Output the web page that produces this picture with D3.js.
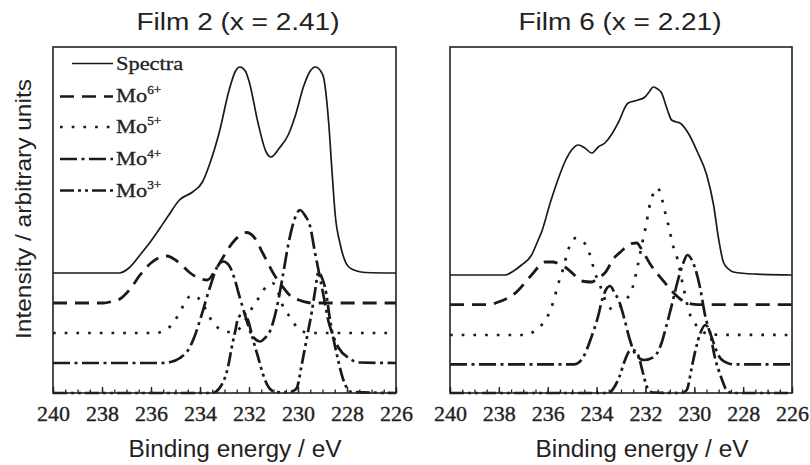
<!DOCTYPE html>
<html><head><meta charset="utf-8">
<script src="https://cdn.jsdelivr.net/npm/d3@7"></script>
<style>html,body{margin:0;padding:0;background:#fff;} svg{display:block}</style>
</head><body>
<svg id="chart" width="810" height="465"></svg>
<script>
// ---------------- DATA ----------------
const panelTitles = ["Film 2 (x = 2.41)", "Film 6 (x = 2.21)"];
const seriesLabels = [["Spectra", ""], ["Mo", "6+"], ["Mo", "5+"], ["Mo", "4+"], ["Mo", "3+"]];
const energyDomain = [240, 226];
const majorTicks = [240, 238, 236, 234, 232, 230, 228, 226];
const intensityDomain = [0, 346];
const xLabel = "Binding energy / eV";
const yLabel = "Intensity / arbitrary units";

// Film 2 : [binding energy (eV), intensity (arb., stacked)]
const film2Spectra = [[240,120],[237.3,120],[236.9,125],[236.45,138],[236.0,152],[235.63,165],[235.3,177],[234.84,193],[234.3,201],[233.9,211],[233.62,228],[233.21,261],[232.8,304],[232.55,322],[232.37,326],[232.15,322],[231.99,311],[231.64,271],[231.3,241],[231.1,236],[230.76,245],[230.4,258],[230.1,278],[229.78,306],[229.5,322],[229.29,326],[229.05,321],[228.95,315],[228.75,271],[228.61,221],[228.48,178],[228.27,148],[227.93,126],[227.6,122],[227.25,120.5],[226,120]];
const film2Mo6 = [[240,90],[237.95,90],[237.6,91.5],[237.27,94],[236.85,104],[236.45,118],[236.0,130],[235.6,136],[235.35,137],[235.0,133],[234.75,128],[234.4,120],[234.0,114.5],[233.7,113],[233.35,124],[233.1,134],[232.8,146],[232.45,156],[232.1,160.5],[231.8,156],[231.42,139],[230.94,117],[230.65,107],[230.26,96],[229.97,93],[229.6,90.5],[229.3,90],[226,90]];
const film2Mo5 = [[240,60],[235.8,60],[235.5,62],[235.22,66.5],[234.84,80],[234.6,91],[234.4,97],[234.2,97.5],[234.0,93],[233.8,85],[233.59,75],[233.35,67],[233.11,63],[232.8,61],[232.5,62.5],[232.19,71],[231.9,84],[231.55,97],[231.28,107],[231.05,110],[230.87,105],[230.67,90],[230.33,76],[229.92,63],[229.5,60],[226,60]];
const film2Mo4 = [[240,30],[235.6,30],[235.2,31],[234.82,35],[234.41,46],[234.2,58],[234.0,73],[233.59,106],[233.3,126],[233.05,131.5],[232.8,127],[232.64,118],[232.37,95],[232.1,73],[231.96,62],[231.75,54],[231.55,51.5],[231.35,55],[231.14,62],[230.87,85],[230.65,113],[230.4,148],[230.19,170],[229.92,183],[229.7,177],[229.51,167],[229.31,141],[229.1,115],[228.9,90],[228.75,71],[228.62,61],[228.34,45],[227.93,35],[227.5,30.5],[226,30]];
const film2Mo3 = [[240,0],[233.5,0],[233.12,8],[232.84,28],[232.71,45],[232.57,61],[232.44,75],[232.2,80],[232.03,72],[231.82,52],[231.62,35],[231.42,18],[231.14,4],[230.9,1],[230.4,0.5],[230.2,2],[230.05,5],[229.85,28],[229.64,55],[229.44,81],[229.31,101],[229.16,121],[229.02,115],[228.89,105],[228.68,71],[228.41,38],[228.07,8],[227.8,1],[226,0]];

// Film 6
const film6Spectra = [[240,118],[237.75,118],[237.4,122],[237.07,128],[236.66,138],[236.39,153],[236.25,161],[235.9,190],[235.6,212],[235.3,231],[235.02,243],[234.75,248],[234.48,245],[234.2,240],[233.93,246],[233.66,250],[233.4,258],[233.12,270],[232.71,290],[232.3,293],[232.02,296],[231.85,301],[231.68,306],[231.5,304],[231.34,300],[231.1,283],[230.93,273],[230.72,271],[230.59,270],[230.25,260],[229.87,241],[229.49,218],[229.21,188],[229.01,155],[228.81,131],[228.6,124],[228.4,121],[227.9,119.5],[227.31,118.7],[226,118]];
const film6Mo6 = [[240,88.3],[238.43,88.3],[238.02,91],[237.34,99.7],[236.66,118],[236.11,131],[235.8,131],[235.46,128],[235.3,126],[234.91,118],[234.75,114],[234.5,111.5],[234.2,111],[233.96,114.7],[233.66,120],[233.28,135],[233.0,141.5],[232.53,149.7],[232.35,150],[232.19,145],[231.78,128],[231.24,111.3],[230.89,101.3],[230.52,93],[230.2,89.5],[229.84,88.3],[226,88.3]];
const film6Mo5 = [[240,58],[236.93,58],[236.6,61],[236.39,64.7],[235.98,78],[235.77,91.3],[235.57,109],[235.37,124],[235.19,141],[234.85,155],[234.6,152],[234.44,148],[234.23,135],[234.1,123],[233.82,105],[233.55,88],[233.3,83],[233.0,87],[232.8,93],[232.53,105],[232.32,127],[232.12,151],[231.98,167],[231.85,185],[231.7,198],[231.5,205],[231.3,192],[231.17,178],[231.03,165],[230.9,150],[230.69,134],[230.44,105],[230.17,78],[229.9,67],[229.6,60.5],[229.3,58.3],[226,58]];
const film6Mo4 = [[240,28.7],[234.91,28.7],[234.7,31],[234.5,38],[234.23,54.7],[233.96,74.7],[233.75,95],[233.6,104],[233.45,107],[233.28,101],[233.07,91],[232.87,75],[232.66,55],[232.39,38],[232.05,33],[231.64,36.3],[231.37,48],[231.1,71],[230.89,91],[230.69,111],[230.45,130],[230.28,138],[230.1,133],[229.97,125],[229.76,105],[229.56,78],[229.28,55],[228.94,35],[228.6,29.5],[228.4,28.7],[226,28.7]];
const film6Mo3 = [[240,0],[233.5,0],[233.3,5],[233.07,16],[232.85,32],[232.65,42],[232.5,43],[232.3,38],[232.1,20],[231.92,5],[231.7,0.5],[230.5,0],[230.31,3],[230.1,26],[229.95,43],[229.75,60],[229.55,68],[229.4,64],[229.16,36],[228.89,15],[228.68,3],[228.45,0],[226,0]];

const film2Curves = [film2Spectra, film2Mo6, film2Mo5, film2Mo4, film2Mo3];
const film6Curves = [film6Spectra, film6Mo6, film6Mo5, film6Mo4, film6Mo3];

// ---------------- STYLE / LAYOUT ----------------
const styles = [
  {dash: null,                 width: 1.7},
  {dash: "14,8",               width: 2.8},
  {dash: "2.7,9",              width: 2.7},
  {dash: "17,4.5,3,4.5",       width: 2.7},
  {dash: "14,4,3,4,3,4",       width: 2.7}
];
const ink = "#1a1a1a";
const serif = "'Liberation Serif', 'Times New Roman', serif";
const sans = "'Liberation Sans', Arial, sans-serif";
const panels = [
  {x0: 53,  x1: 396, curves: film2Curves, title: panelTitles[0], titleX: 238, labelX: 235, legend: true},
  {x0: 450, x1: 792, curves: film6Curves, title: panelTitles[1], titleX: 620, labelX: 642, legend: false}
];
const plotTop = 47, plotBottom = 393;

const svg = d3.select("#chart");
const minorTicks = d3.range(226, 240.001, 0.5);

panels.forEach(p => {
  const x = d3.scaleLinear().domain(energyDomain).range([p.x0, p.x1]);
  const y = d3.scaleLinear().domain(intensityDomain).range([plotBottom, plotTop]);
  const g = svg.append("g");

  const line = d3.line().x(d => x(d[0])).y(d => y(d[1])).curve(d3.curveMonotoneX);
  p.curves.forEach((c, i) => {
    g.append("path").datum(c).attr("d", line)
      .attr("fill", "none").attr("stroke", ink)
      .attr("stroke-width", styles[i].width)
      .attr("stroke-dasharray", styles[i].dash)
      .attr("stroke-linejoin", "round");
  });

  g.append("rect").attr("x", p.x0).attr("y", plotTop)
    .attr("width", p.x1 - p.x0).attr("height", plotBottom - plotTop)
    .attr("fill", "none").attr("stroke", "#222").attr("stroke-width", 1.6);

  const minorAxis = d3.axisBottom(x).tickValues(minorTicks).tickSize(-3.5).tickFormat("");
  const majorAxis = d3.axisBottom(x).tickValues(majorTicks).tickSize(-6).tickPadding(12).tickFormat(d3.format("d"));
  const ga = g.append("g").attr("transform", `translate(0,${plotBottom})`).call(minorAxis);
  ga.select(".domain").remove();
  ga.selectAll("line").attr("stroke", "#222").attr("stroke-width", 1.3);
  const gb = g.append("g").attr("transform", `translate(0,${plotBottom})`).call(majorAxis);
  gb.attr("font-family", null).attr("font-size", null);
  gb.select(".domain").remove();
  gb.selectAll("line").attr("stroke", "#222").attr("stroke-width", 1.4);
  gb.selectAll("text").style("font-family", serif)
    .style("font-size", "22px").attr("fill", "#222")
    .attr("stroke", "#222").attr("stroke-width", 0.35);

  g.append("text").attr("x", p.titleX).attr("y", 29.5)
    .attr("text-anchor", "middle").style("font-family", sans)
    .style("font-size", "23.5px").attr("fill", "#222")
    .attr("textLength", 203).attr("lengthAdjust", "spacingAndGlyphs")
    .text(p.title);

  g.append("text").attr("x", p.labelX).attr("y", 456.5)
    .attr("text-anchor", "middle").style("font-family", sans)
    .style("font-size", "23.3px").attr("fill", "#222")
    .attr("textLength", 213).attr("lengthAdjust", "spacingAndGlyphs")
    .text(xLabel);

  if (p.legend) {
    const lineY = [63.5, 96.5, 127, 159, 190.5];
    const textY = [70, 101.7, 132.7, 165, 196.7];
    seriesLabels.forEach((lab, i) => {
      g.append("line").attr("x1", i === 0 ? 72 : 60).attr("x2", 113)
        .attr("y1", lineY[i]).attr("y2", lineY[i])
        .attr("stroke", ink).attr("stroke-width", i === 0 ? 1.6 : 2.7)
        .attr("stroke-dasharray", styles[i].dash);
      const tg = g.append("g").attr("transform", `translate(116,${textY[i]}) scale(1.15,1)`);
      const t = tg.append("text").attr("x", 0).attr("y", 0)
        .style("font-family", serif)
        .style("font-size", "19.5px").attr("fill", "#222")
        .attr("stroke", "#222").attr("stroke-width", 0.3);
      t.append("tspan").text(lab[0]);
      if (lab[1]) t.append("tspan").style("font-size", "11.5px").attr("dy", -7.5).text(lab[1]);
    });
  }
});

svg.append("text").attr("transform", "translate(31,209) rotate(-90)")
  .attr("text-anchor", "middle").style("font-family", sans)
  .style("font-size", "22px").attr("fill", "#222")
  .attr("textLength", 260).attr("lengthAdjust", "spacingAndGlyphs")
  .text(yLabel);
</script>
</body></html>
